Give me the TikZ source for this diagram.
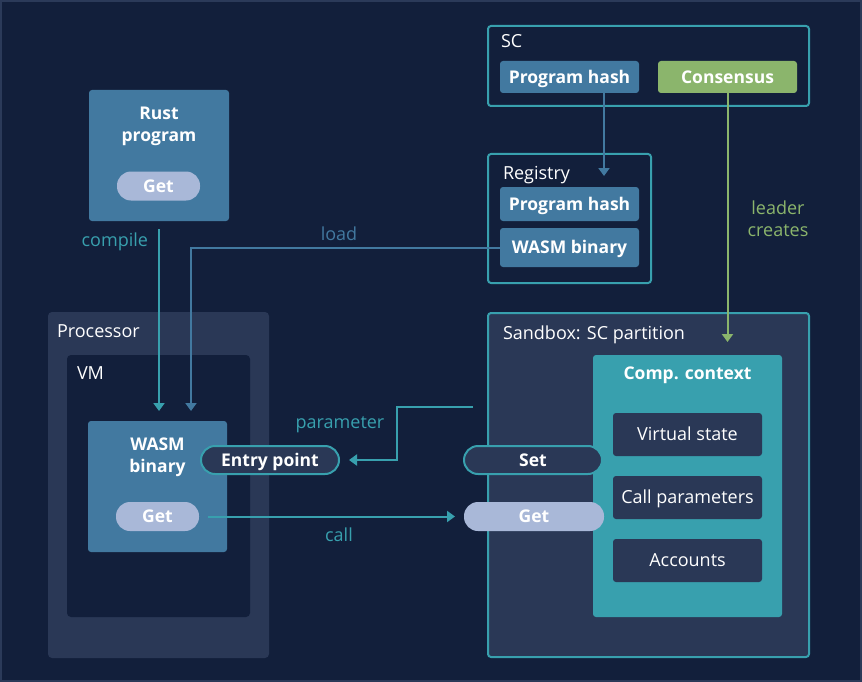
\documentclass[tikz,border=0pt]{standalone}
\usepackage{fontspec}
\setmainfont{Open Sans}
\usetikzlibrary{arrows.meta,positioning}
\definecolor{Bg}{HTML}{121F3B}
\definecolor{Frame}{HTML}{2B3A59}
\definecolor{Panel}{HTML}{2A3856}
\definecolor{Steel}{HTML}{4279A0}
\definecolor{Teal}{HTML}{38A0AE}
\definecolor{Leaf}{HTML}{8BB56C}
\definecolor{Pale}{HTML}{A9B8D8}

\begin{document}
\begin{tikzpicture}[x=1pt,y=-1pt,>={Triangle[width=11pt,length=8pt]},
  every node/.style={inner sep=0pt,outer sep=0pt,text=white},
  txt/.style={font=\fontsize{18}{22}\selectfont},
  hd/.style={font=\fontsize{17.5}{22}\selectfont\bfseries,align=center},
  card/.style={fill=Steel,rounded corners=3pt},
  tag/.style={rounded corners=3pt,minimum width=139pt,text height=12.5pt,text depth=0pt,font=\fontsize{17.5}{22}\selectfont\bfseries},
  slot/.style={fill=Panel,rounded corners=3pt,minimum width=149pt,minimum height=43pt,text height=12.5pt,text depth=0pt,font=\fontsize{18}{22}\selectfont},
  pill/.style={rounded corners=14pt,minimum height=29pt,text height=12.5pt,text depth=0pt,font=\fontsize{17.5}{22}\selectfont\bfseries},
  frame/.style={draw=Teal,line width=2pt,rounded corners=3pt},
  wire/.style={line width=2pt,->}]
  \useasboundingbox (0,0) rectangle (862,682);
  \draw[fill=Bg,draw=Frame,line width=2pt] (1,1) rectangle (861,681);

  \node[card,minimum width=140pt,minimum height=131pt] (rust) at (159,155.5) {};
  \node[hd,anchor=north] at (159,107) {Rust\\program};
  \node[pill,fill=Pale,minimum width=83pt] (rget) at (158.5,186) {Get};

  \node[fill=Panel,rounded corners=4pt,minimum width=221pt,minimum height=346pt] (proc) at (158.5,485) {};
  \node[txt,anchor=base west] at (57,337) {Processor};
  \node[fill=Bg,rounded corners=4pt,minimum width=183pt,minimum height=262pt] (vm) at (158.5,486) {};
  \node[txt,anchor=base west] at (77,379) {VM};
  \node[card,minimum width=139pt,minimum height=131pt] (wasm) at (157.5,486.5) {};
  \node[hd,anchor=north] at (157.5,438) {WASM\\binary};
  \node[pill,fill=Pale,minimum width=83pt] (wget) at (157.5,516.5) {Get};
  \node[pill,fill=Panel,draw=Teal,line width=2pt,minimum width=138pt,minimum height=28pt] (entry) at (270,460) {Entry point};

  \node[frame,minimum width=321pt,minimum height=80pt] (sc) at (648.5,66) {};
  \node[txt,anchor=base west] at (501,48) {SC};
  \node[tag,fill=Steel,minimum height=32pt] (scph) at (569.5,77) {Program hash};
  \node[tag,fill=Leaf,minimum height=32pt] (cons) at (727.5,77) {Consensus};

  \node[frame,minimum width=163pt,minimum height=129pt] (reg) at (569.5,218.5) {};
  \node[txt,anchor=base west] at (503,179) {Registry};
  \node[tag,fill=Steel,minimum height=34pt] (regph) at (569.5,204) {Program hash};
  \node[tag,fill=Steel,minimum height=39pt] (regwasm) at (569.5,247.5) {WASM binary};

  \node[frame,fill=Panel,minimum width=321pt,minimum height=344pt] (sbx) at (648.5,485) {};
  \node[txt,anchor=base west] at (503,339) {Sandbox: SC partition};
  \node[fill=Teal,rounded corners=3pt,minimum width=189pt,minimum height=262pt] (ctx) at (687.5,486) {};
  \node[hd,anchor=base] at (687.5,379) {Comp. context};
  \node[slot] (vstate) at (687.5,434.5) {Virtual state};
  \node[slot] (cparams) at (687.5,497.5) {Call parameters};
  \node[slot] (accts) at (687.5,560.5) {Accounts};
  \node[pill,fill=Panel,draw=Teal,line width=2pt,minimum width=138pt,minimum height=28pt] (set) at (533,460) {Set};
  \node[pill,fill=Pale,minimum width=140pt] (sget) at (534,516.5) {Get};

  \coordinate (pin) at (473,407);
  \draw[wire,Teal,shorten <=8pt,shorten >=10pt] (rust.south) -- (rust.south |- wasm.north);
  \draw[wire,Steel,shorten >=10pt] (regwasm.west) -| ([xshift=33.5pt]wasm.north);
  \draw[wire,Steel,shorten >=11pt] ([xshift=34.5pt]scph.south) -- ([xshift=34.5pt]regph.north);
  \draw[wire,Leaf,shorten >=13pt] (cons.south) -- (cons.south |- ctx.north);
  \draw[wire,Teal,shorten >=10pt] (pin) -- ++(-76,0) |- (entry.east);
  \draw[wire,Teal,shorten <=9pt,shorten >=9pt] (wget.east) -- (sget.west);

  \node[txt,text=Teal,anchor=base east] at (148,246) {compile};
  \node[txt,text=Steel,anchor=base] at (339,240) {load};
  \node[txt,text=Teal,anchor=base] at (340,428) {parameter};
  \node[txt,text=Teal,anchor=base] at (339,541) {call};
  \node[txt,text=Leaf,align=center,anchor=north] at (778,201) {leader\\creates};
\end{tikzpicture}
\end{document}
